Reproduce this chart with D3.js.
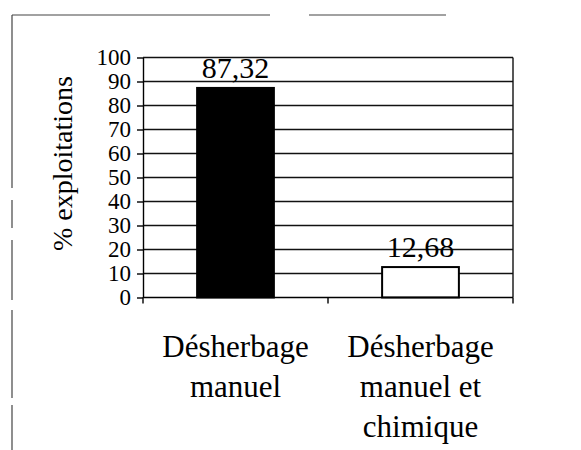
<!DOCTYPE html>
<html>
<head>
<meta charset="utf-8">
<script src="https://cdn.jsdelivr.net/npm/d3@7"></script>
<style>
  body { margin: 0; background: #fff; }
</style>
</head>
<body>
<svg id="chart" width="581" height="450"></svg>
<script>
// Data
const categories = ["Désherbage manuel", "Désherbage manuel et chimique"];
const catLines = [["Désherbage", "manuel"], ["Désherbage", "manuel et", "chimique"]];
const values = [87.32, 12.68];
const valueLabels = ["87,32", "12,68"];
const yTicks = [0, 10, 20, 30, 40, 50, 60, 70, 80, 90, 100];
const barFills = ["#000", "#fff"];

const serif = "'Liberation Serif'";
const svg = d3.select("#chart");

// Plot area
const plotLeft = 143, plotRight = 513, plotTop = 57.5, plotBottom = 297.5;

const x = d3.scaleBand()
    .domain(categories)
    .range([plotLeft, plotRight])
    .paddingInner(0.585)
    .paddingOuter(0.2925);

const y = d3.scaleLinear().domain([0, 100]).range([plotBottom, plotTop]);

// Outer frame (partly broken as in the scan)
const frame = svg.append("g").attr("stroke", "#444").attr("stroke-width", 1.2);
frame.append("line").attr("x1", 12).attr("x2", 270).attr("y1", 15).attr("y2", 15);
frame.append("line").attr("x1", 309).attr("x2", 446).attr("y1", 15).attr("y2", 15);
[[15, 188], [200, 228], [240, 300], [310, 398], [405, 450]].forEach(function(s) {
  frame.append("line").attr("x1", 12).attr("x2", 12).attr("y1", s[0]).attr("y2", s[1]);
});

// Gridlines
svg.append("g")
  .selectAll("line")
  .data(yTicks.filter(function(d) { return d > 0; }))
  .join("line")
    .attr("x1", plotLeft).attr("x2", plotRight)
    .attr("y1", function(d) { return y(d); })
    .attr("y2", function(d) { return y(d); })
    .attr("stroke", "#111")
    .attr("stroke-width", 1.3);

// Right border of the plot
svg.append("line")
    .attr("x1", plotRight).attr("x2", plotRight)
    .attr("y1", y(100)).attr("y2", y(0))
    .attr("stroke", "#111").attr("stroke-width", 1.4);

// Bars
svg.append("g")
  .selectAll("rect")
  .data(values)
  .join("rect")
    .attr("x", function(d, i) { return x(categories[i]); })
    .attr("y", function(d) { return y(d); })
    .attr("width", x.bandwidth())
    .attr("height", function(d) { return y(0) - y(d); })
    .attr("fill", function(d, i) { return barFills[i]; })
    .attr("stroke", "#000")
    .attr("stroke-width", 2);

// Value labels
svg.append("g")
  .selectAll("text")
  .data(values)
  .join("text")
    .attr("x", function(d, i) { return x(categories[i]) + x.bandwidth() / 2; })
    .attr("y", function(d) { return y(d) - 10; })
    .attr("text-anchor", "middle")
    .style("font-family", serif)
    .style("font-size", "30px")
    .attr("fill", "#000")
    .text(function(d, i) { return valueLabels[i]; });

// Y axis
const yAxis = svg.append("g")
    .attr("transform", "translate(" + plotLeft + ",0)")
    .call(d3.axisLeft(y).tickValues(yTicks).tickSize(6).tickSizeOuter(0).tickPadding(6)
      .tickFormat(d3.format("d")));
yAxis.selectAll("path, line").attr("stroke", "#000").attr("stroke-width", 1.4);
yAxis.selectAll("text")
    .style("font-family", serif)
    .style("font-size", "23px")
    .attr("fill", "#000");

// X axis baseline with ticks at band boundaries
const xBase = svg.append("g").attr("stroke", "#000").attr("stroke-width", 1.4);
xBase.append("line").attr("x1", plotLeft).attr("x2", plotRight).attr("y1", y(0)).attr("y2", y(0));
const bounds = [plotLeft].concat(categories.map(function(c) { return x(c) - x.step() * x.paddingInner() / 2 + x.step(); }));
xBase.selectAll("line.tick")
  .data(bounds)
  .join("line")
    .attr("class", "tick")
    .attr("x1", function(d) { return d; }).attr("x2", function(d) { return d; })
    .attr("y1", y(0)).attr("y2", y(0) + 6);

// Category labels
svg.append("g")
  .selectAll("text")
  .data(categories)
  .join("text")
    .attr("text-anchor", "middle")
    .style("font-family", serif)
    .style("font-size", "31px")
    .attr("fill", "#000")
    .each(function(c, i) {
      const t = d3.select(this);
      catLines[i].forEach(function(line, j) {
        t.append("tspan")
          .attr("x", x(c) + x.bandwidth() / 2)
          .attr("y", 357 + j * 40)
          .text(line);
      });
    });

// Y axis title
svg.append("text")
    .attr("transform", "translate(72," + (y(55) - 2) + ") rotate(-90)")
    .attr("text-anchor", "middle")
    .style("font-family", serif)
    .style("font-size", "28px")
    .attr("fill", "#000")
    .text("% exploitations");
</script>
</body>
</html>
